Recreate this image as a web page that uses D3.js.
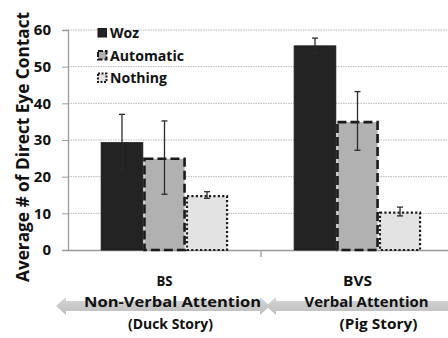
<!DOCTYPE html>
<html><head><meta charset="utf-8">
<script src="https://cdn.jsdelivr.net/npm/d3@7"></script>
<style>body{margin:0;background:#fff}svg{display:block}text{font-family:"Open Sans",sans-serif;font-weight:bold;fill:#111}</style>
</head><body><svg id="c" width="448" height="338"></svg>
<script>
const categories = ["BS", "BVS"];
const catLine2 = ["Non-Verbal Attention", "Verbal Attention"];
const catLine3 = ["(Duck Story)", "(Pig Story)"];
const series = ["Woz", "Automatic", "Nothing"];
const means = { Woz: [29.4, 55.8], Automatic: [25.2, 35.2], Nothing: [15.0, 10.5] };
const errors = { Woz: [7.6, 2.0], Automatic: [10.0, 8.0], Nothing: [0.9, 1.2] };
const yTicks = [0, 10, 20, 30, 40, 50, 60];

const svg = d3.select("#c");
const x0 = d3.scaleBand().domain(categories).range([68, 454]).padding(0);
const x1 = d3.scaleBand().domain(series).range([0, x0.bandwidth()]).paddingInner(0).paddingOuter(0.77);
const y = d3.scaleLinear().domain([0, 60]).range([250, 30]);

const fills = { Woz: "#232323", Automatic: "#b1b1b1", Nothing: "#e3e3e3" };
const dashes = { Woz: null, Automatic: "9,4", Nothing: "2.2,2.2" };
const strokeW = { Woz: 1, Automatic: 2.6, Nothing: 2.2 };

function fit(sel, w) { sel.attr("textLength", w).attr("lengthAdjust", "spacingAndGlyphs"); }

// gridlines
svg.append("g").selectAll("line").data(yTicks.filter(d => d > 0)).join("line")
  .attr("x1", 68).attr("x2", 448).attr("y1", d => y(d)).attr("y2", d => y(d))
  .attr("stroke", "#b8b8b8").attr("stroke-width", 1).attr("stroke-dasharray", "1.5,1");

// y axis
const yAxis = d3.axisLeft(y).tickValues(yTicks).tickSize(6).tickPadding(11);
const ga = svg.append("g").attr("transform", "translate(68,0)").call(yAxis);
ga.select(".domain").attr("stroke", "#9a9a9a").attr("stroke-width", 1.3);
ga.selectAll(".tick line").attr("stroke", "#9a9a9a");
ga.selectAll(".tick text").attr("font-size", 15).attr("font-family", "'Open Sans',sans-serif").attr("font-weight", "bold").attr("fill", "#111");

// x axis line
const xAxis = d3.axisBottom(x0).tickValues([]).tickSize(0);
const gx = svg.append("g").attr("transform", "translate(0,250)").call(xAxis);
gx.select(".domain").attr("stroke", "#9a9a9a").attr("stroke-width", 1.3);
svg.append("line").attr("x1", x0("BVS")).attr("x2", x0("BVS")).attr("y1", 250).attr("y2", 257)
  .attr("stroke", "#9a9a9a").attr("stroke-width", 1.3);

// bars
const groups = svg.append("g").selectAll("g").data(categories).join("g")
  .attr("transform", d => `translate(${x0(d)},0)`);
series.forEach(s => {
  const ins = s === "Woz" ? 0.5 : 1.2;
  groups.append("rect")
    .attr("x", () => x1(s) + ins)
    .attr("width", x1.bandwidth() - 2 * ins)
    .attr("y", (d, i) => y(means[s][i]) + ins)
    .attr("height", (d, i) => y(0) - y(means[s][i]) - ins)
    .attr("fill", fills[s]).attr("stroke", "#1a1a1a").attr("stroke-width", strokeW[s])
    .attr("stroke-dasharray", dashes[s]);
});
// error bars
series.forEach(s => {
  const cx = x1(s) + x1.bandwidth() / 2;
  const eg = groups.append("g").attr("stroke", "#2a2a2a").attr("stroke-width", 1.3);
  eg.append("line").attr("x1", cx).attr("x2", cx)
    .attr("y1", (d, i) => y(means[s][i] + errors[s][i])).attr("y2", (d, i) => y(means[s][i] - errors[s][i]));
  [1, -1].forEach(sg => {
    eg.append("line").attr("x1", cx - 3).attr("x2", cx + 3)
      .attr("y1", (d, i) => y(means[s][i] + sg * errors[s][i])).attr("y2", (d, i) => y(means[s][i] + sg * errors[s][i]));
  });
});

// legend
const legendW = [29, 74, 57];
const lg = svg.append("g");
series.forEach((s, i) => {
  const ly = 33 + i * 22.5;
  lg.append("rect").attr("x", 98).attr("y", ly - 4.5).attr("width", 8.5).attr("height", 8.5)
    .attr("fill", fills[s]).attr("stroke", "#1a1a1a").attr("stroke-width", s === "Woz" ? 1 : 2)
    .attr("stroke-dasharray", s === "Automatic" ? "5,2" : (s === "Nothing" ? "2,1.5" : null));
  lg.append("text").attr("x", 110).attr("y", ly + 5).attr("font-size", 14).text(s).call(fit, legendW[i]);
});

// y title
svg.append("text").attr("transform", "translate(29,147) rotate(-90)")
  .attr("text-anchor", "middle").attr("font-size", 17.5).text("Average # of Direct Eye Contact").call(fit, 270);

// arrows
const defs = svg.append("defs");
const grad = defs.append("linearGradient").attr("id", "ag").attr("x1", 0).attr("x2", 0).attr("y1", 0).attr("y2", 1);
grad.append("stop").attr("offset", 0).attr("stop-color", "#d6d6d6");
grad.append("stop").attr("offset", 1).attr("stop-color", "#bdbdbd");
function arrow(xa, xb) {
  const cy = 306, h = 5, H = 9, L = 10;
  const p = `M${xa},${cy} L${xa + L},${cy - H} L${xa + L},${cy - h} L${xb - L},${cy - h} L${xb - L},${cy - H} L${xb},${cy} L${xb - L},${cy + H} L${xb - L},${cy + h} L${xa + L},${cy + h} L${xa + L},${cy + H} Z`;
  svg.append("path").attr("d", p).attr("fill", "url(#ag)");
}
arrow(56, 270);
arrow(266, 480);

// category labels
const w1 = [16, 29], w2 = [177, 124], w3 = [85, 78];
const cl = svg.append("g").selectAll("g").data(categories).join("g");
cl.append("text").attr("x", d => x0(d) + x0.bandwidth() / 2).attr("y", 286).attr("text-anchor", "middle").attr("font-size", 14).text(d => d)
  .each(function(d, i) { d3.select(this).call(fit, w1[i]); });
cl.append("text").attr("x", (d, i) => x0(d) + x0.bandwidth() / 2 + (i ? 9 : 8)).attr("y", 307).attr("text-anchor", "middle").attr("font-size", 14.5).text((d, i) => catLine2[i])
  .each(function(d, i) { d3.select(this).call(fit, w2[i]); });
cl.append("text").attr("x", (d, i) => x0(d) + x0.bandwidth() / 2 + (i ? 21 : 6)).attr("y", 329).attr("text-anchor", "middle").attr("font-size", 14).text((d, i) => catLine3[i])
  .each(function(d, i) { d3.select(this).call(fit, w3[i]); });
</script></body></html>
